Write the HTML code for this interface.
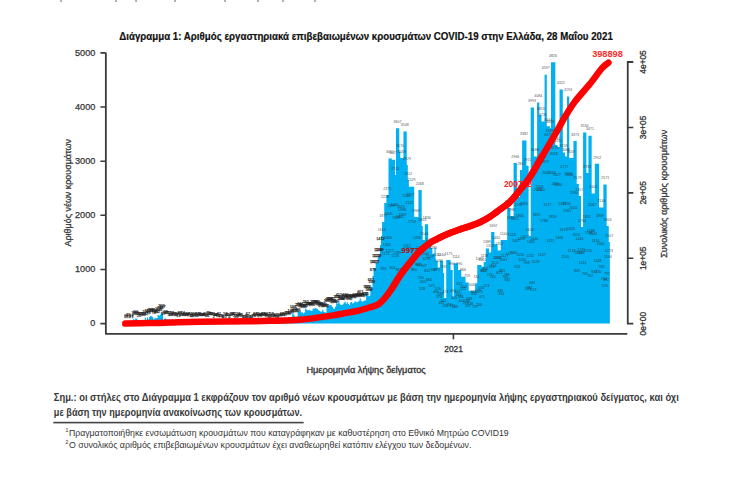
<!DOCTYPE html><html><head><meta charset="utf-8"><title>Διάγραμμα 1</title><style>
html,body{margin:0;padding:0;background:#fff;width:734px;height:479px;overflow:hidden}
svg{display:block}
text{font-family:"Liberation Sans","DejaVu Sans",sans-serif}
</style></head><body>
<svg width="734" height="479" viewBox="0 0 734 479">
<rect width="734" height="479" fill="#fff"/>
<text y="-0.4" font-size="9" fill="#444"><tspan x="60">ρ</tspan><tspan x="115">ρ</tspan><tspan x="135">ρ</tspan><tspan x="174">ρ</tspan><tspan x="224">ρ</tspan><tspan x="257">ρ</tspan><tspan x="282">ρ</tspan><tspan x="314">ρ</tspan></text>
<text x="119.3" y="39.6" font-size="10.4" font-weight="bold" fill="#111" stroke="#111" stroke-width="0.2" textLength="493.5" lengthAdjust="spacingAndGlyphs">Διάγραμμα 1: Αριθμός εργαστηριακά επιβεβαιωμένων κρουσμάτων COVID-19 στην Ελλάδα, 28 Μαΐου 2021</text>
<path fill="#00B0F0" d="M125.53 322.71h1.13V323.6h-1.13zM127.67 321.55h1.13V323.6h-1.13zM128.74 323.32h1.13V323.6h-1.13zM129.81 323.24h1.13V323.6h-1.13zM130.88 322.6h1.13V323.6h-1.13zM133.02 319.33h1.13V323.6h-1.13zM134.09 320.07h1.13V323.6h-1.13zM135.16 318.54h1.13V323.6h-1.13zM136.22 318.81h1.13V323.6h-1.13zM137.29 320.44h1.13V323.6h-1.13zM138.36 322.21h1.13V323.6h-1.13zM139.43 320.22h1.13V323.6h-1.13zM140.5 319.96h1.13V323.6h-1.13zM141.57 320.73h1.13V323.6h-1.13zM142.64 321.52h1.13V323.6h-1.13zM143.71 320.46h1.13V323.6h-1.13zM144.78 317.85h1.13V323.6h-1.13zM145.85 320.22h1.13V323.6h-1.13zM146.91 317.46h1.13V323.6h-1.13zM147.98 319.62h1.13V323.6h-1.13zM149.05 317.08h1.13V323.6h-1.13zM150.12 316.09h1.13V323.6h-1.13zM151.19 316.2h1.13V323.6h-1.13zM152.26 317.35h1.13V323.6h-1.13zM153.33 319.47h1.13V323.6h-1.13zM154.4 317.71h1.13V323.6h-1.13zM155.47 318.48h1.13V323.6h-1.13zM156.54 318.07h1.13V323.6h-1.13zM157.6 315.07h1.13V323.6h-1.13zM158.67 315.86h1.13V323.6h-1.13zM159.74 314.71h1.13V323.6h-1.13zM160.81 312.6h1.13V323.6h-1.13zM161.88 313.5h1.13V323.6h-1.13zM162.95 320.51h1.13V323.6h-1.13zM164.02 319.05h1.13V323.6h-1.13zM165.09 318.37h1.13V323.6h-1.13zM166.16 319.49h1.13V323.6h-1.13zM167.23 319.54h1.13V323.6h-1.13zM168.29 319.42h1.13V323.6h-1.13zM169.36 321.5h1.13V323.6h-1.13zM170.43 321.28h1.13V323.6h-1.13zM171.5 319.13h1.13V323.6h-1.13zM172.57 319.95h1.13V323.6h-1.13zM173.64 319.99h1.13V323.6h-1.13zM174.71 321.68h1.13V323.6h-1.13zM175.78 321.58h1.13V323.6h-1.13zM176.85 320.48h1.13V323.6h-1.13zM177.92 322.63h1.13V323.6h-1.13zM178.98 319.1h1.13V323.6h-1.13zM180.05 319.82h1.13V323.6h-1.13zM181.12 321.17h1.13V323.6h-1.13zM182.19 319.62h1.13V323.6h-1.13zM183.26 321.16h1.13V323.6h-1.13zM184.33 320.03h1.13V323.6h-1.13zM185.4 321.57h1.13V323.6h-1.13zM186.47 321.3h1.13V323.6h-1.13zM187.54 320.35h1.13V323.6h-1.13zM188.61 321.58h1.13V323.6h-1.13zM189.67 320.17h1.13V323.6h-1.13zM190.74 321.86h1.13V323.6h-1.13zM191.81 321.92h1.13V323.6h-1.13zM192.88 321.27h1.13V323.6h-1.13zM193.95 320.25h1.13V323.6h-1.13zM195.02 321.26h1.13V323.6h-1.13zM196.09 321.81h1.13V323.6h-1.13zM197.16 320.71h1.13V323.6h-1.13zM198.23 321.76h1.13V323.6h-1.13zM199.3 320.11h1.13V323.6h-1.13zM200.36 321.69h1.13V323.6h-1.13zM201.43 320.9h1.13V323.6h-1.13zM202.5 321.78h1.13V323.6h-1.13zM203.57 321.39h1.13V323.6h-1.13zM204.64 320.07h1.13V323.6h-1.13zM205.71 320.81h1.13V323.6h-1.13zM206.78 322.17h1.13V323.6h-1.13zM207.85 319.38h1.13V323.6h-1.13zM208.92 320.27h1.13V323.6h-1.13zM209.99 320.37h1.13V323.6h-1.13zM211.05 320.4h1.13V323.6h-1.13zM212.12 320.7h1.13V323.6h-1.13zM213.19 323.51h1.13V323.6h-1.13zM214.26 321.74h1.13V323.6h-1.13zM215.33 321.54h1.13V323.6h-1.13zM216.4 321.43h1.13V323.6h-1.13zM217.47 322.76h1.13V323.6h-1.13zM218.54 320.27h1.13V323.6h-1.13zM219.61 322.03h1.13V323.6h-1.13zM220.68 322.77h1.13V323.6h-1.13zM222.81 323.49h1.13V323.6h-1.13zM223.88 323.04h1.13V323.6h-1.13zM224.95 320.75h1.13V323.6h-1.13zM226.02 321.41h1.13V323.6h-1.13zM227.09 321.72h1.13V323.6h-1.13zM230.3 321.21h1.13V323.6h-1.13zM231.37 320.7h1.13V323.6h-1.13zM232.43 320.59h1.13V323.6h-1.13zM233.5 320.79h1.13V323.6h-1.13zM234.57 322.15h1.13V323.6h-1.13zM235.64 322.9h1.13V323.6h-1.13zM236.71 322.19h1.13V323.6h-1.13zM237.78 320.71h1.13V323.6h-1.13zM238.85 321.52h1.13V323.6h-1.13zM239.92 321.06h1.13V323.6h-1.13zM240.99 321.93h1.13V323.6h-1.13zM243.12 323.25h1.13V323.6h-1.13zM244.19 323.05h1.13V323.6h-1.13zM245.26 322.8h1.13V323.6h-1.13zM246.33 322.4h1.13V323.6h-1.13zM247.4 319.98h1.13V323.6h-1.13zM248.47 323.06h1.13V323.6h-1.13zM249.54 323.15h1.13V323.6h-1.13zM252.75 322.03h1.13V323.6h-1.13zM253.81 321.46h1.13V323.6h-1.13zM254.88 320.15h1.13V323.6h-1.13zM255.95 322.16h1.13V323.6h-1.13zM257.02 320.71h1.13V323.6h-1.13zM258.09 321.13h1.13V323.6h-1.13zM259.16 322.01h1.13V323.6h-1.13zM260.23 321.25h1.13V323.6h-1.13zM261.3 321.26h1.13V323.6h-1.13zM262.37 319.98h1.13V323.6h-1.13zM263.44 320h1.13V323.6h-1.13zM264.5 321.01h1.13V323.6h-1.13zM265.57 321.24h1.13V323.6h-1.13zM266.64 322.54h1.13V323.6h-1.13zM267.71 320.79h1.13V323.6h-1.13zM268.78 323.07h1.13V323.6h-1.13zM269.85 321.89h1.13V323.6h-1.13zM270.92 320.51h1.13V323.6h-1.13zM271.99 321.36h1.13V323.6h-1.13zM273.06 322.08h1.13V323.6h-1.13zM274.13 322.54h1.13V323.6h-1.13zM275.19 321.12h1.13V323.6h-1.13zM276.26 322.99h1.13V323.6h-1.13zM277.33 323.18h1.13V323.6h-1.13zM278.4 321.58h1.13V323.6h-1.13zM279.47 322.15h1.13V323.6h-1.13zM280.54 321.19h1.13V323.6h-1.13zM281.61 320.65h1.13V323.6h-1.13zM282.68 320.86h1.13V323.6h-1.13zM283.75 320h1.13V323.6h-1.13zM284.82 321.62h1.13V323.6h-1.13zM285.88 319.55h1.13V323.6h-1.13zM286.95 319.58h1.13V323.6h-1.13zM288.02 320.63h1.13V323.6h-1.13zM289.09 319.6h1.13V323.6h-1.13zM290.16 317.7h1.13V323.6h-1.13zM291.23 318.45h1.13V323.6h-1.13zM292.3 312.89h1.13V323.6h-1.13zM293.37 314.8h1.13V323.6h-1.13zM294.44 316.83h1.13V323.6h-1.13zM295.51 316.84h1.13V323.6h-1.13zM296.57 316.67h1.13V323.6h-1.13zM297.64 311.59h1.13V323.6h-1.13zM298.71 311.35h1.13V323.6h-1.13zM299.78 310.37h1.13V323.6h-1.13zM300.85 312.62h1.13V323.6h-1.13zM301.92 312.31h1.13V323.6h-1.13zM302.99 313.55h1.13V323.6h-1.13zM304.06 312.42h1.13V323.6h-1.13zM305.13 308.46h1.13V323.6h-1.13zM306.2 309.86h1.13V323.6h-1.13zM307.26 310.15h1.13V323.6h-1.13zM308.33 309.9h1.13V323.6h-1.13zM309.4 310.24h1.13V323.6h-1.13zM310.47 310.68h1.13V323.6h-1.13zM311.54 310.82h1.13V323.6h-1.13zM312.61 308.47h1.13V323.6h-1.13zM313.68 308.86h1.13V323.6h-1.13zM314.75 308.01h1.13V323.6h-1.13zM315.82 308.6h1.13V323.6h-1.13zM316.89 309.09h1.13V323.6h-1.13zM317.95 310.35h1.13V323.6h-1.13zM319.02 310.68h1.13V323.6h-1.13zM320.09 311.55h1.13V323.6h-1.13zM321.16 311.85h1.13V323.6h-1.13zM322.23 309.82h1.13V323.6h-1.13zM323.3 311.69h1.13V323.6h-1.13zM324.37 312.36h1.13V323.6h-1.13zM325.44 312.65h1.13V323.6h-1.13zM326.51 307.04h1.13V323.6h-1.13zM327.58 305.95h1.13V323.6h-1.13zM328.64 305.37h1.13V323.6h-1.13zM329.71 304.97h1.13V323.6h-1.13zM330.78 305.19h1.13V323.6h-1.13zM331.85 307.12h1.13V323.6h-1.13zM332.92 308.46h1.13V323.6h-1.13zM333.99 308.66h1.13V323.6h-1.13zM335.06 306.83h1.13V323.6h-1.13zM336.13 303.32h1.13V323.6h-1.13zM337.2 303.52h1.13V323.6h-1.13zM338.27 301.29h1.13V323.6h-1.13zM339.33 303.75h1.13V323.6h-1.13zM340.4 304.99h1.13V323.6h-1.13zM341.47 304.96h1.13V323.6h-1.13zM342.54 304.25h1.13V323.6h-1.13zM343.61 302.73h1.13V323.6h-1.13zM344.68 301.41h1.13V323.6h-1.13zM345.75 303.68h1.13V323.6h-1.13zM346.82 302.13h1.13V323.6h-1.13zM347.89 304.12h1.13V323.6h-1.13zM348.96 305.1h1.13V323.6h-1.13zM350.02 302.55h1.13V323.6h-1.13zM351.09 301.96h1.13V323.6h-1.13zM352.16 303.52h1.13V323.6h-1.13zM353.23 302.96h1.13V323.6h-1.13zM354.3 301.58h1.13V323.6h-1.13zM355.37 301.83h1.13V323.6h-1.13zM356.44 302.31h1.13V323.6h-1.13zM357.51 301.78h1.13V323.6h-1.13zM358.58 300.84h1.13V323.6h-1.13zM359.65 298.3h1.13V323.6h-1.13zM360.71 300.81h1.13V323.6h-1.13zM361.78 301.83h1.13V323.6h-1.13zM362.85 301.13h1.13V323.6h-1.13zM363.92 300.49h1.13V323.6h-1.13zM364.99 300.57h1.13V323.6h-1.13zM366.06 293.55h1.13V323.6h-1.13zM367.13 292.85h1.13V323.6h-1.13zM368.2 296.3h1.13V323.6h-1.13zM369.27 295.71h1.13V323.6h-1.13zM370.34 286.69h1.13V323.6h-1.13zM371.4 288.47h1.13V323.6h-1.13zM372.47 276h1.13V323.6h-1.13zM373.54 268h1.13V323.6h-1.13zM374.61 268h1.13V323.6h-1.13zM375.68 262.5h1.13V323.6h-1.13zM376.75 262.5h1.13V323.6h-1.13zM377.82 256h1.13V323.6h-1.13zM378.89 256h1.13V323.6h-1.13zM379.96 245h1.13V323.6h-1.13zM381.03 236h1.13V323.6h-1.13zM382.09 222h1.13V323.6h-1.13zM383.16 222h1.13V323.6h-1.13zM384.23 203h1.13V323.6h-1.13zM385.3 203h1.13V323.6h-1.13zM386.37 195h1.13V323.6h-1.13zM387.44 195h1.13V323.6h-1.13zM388.51 158.4h1.13V323.6h-1.13zM389.58 158.4h1.13V323.6h-1.13zM390.65 158.4h1.13V323.6h-1.13zM391.72 159.7h1.13V323.6h-1.13zM392.78 159.7h1.13V323.6h-1.13zM393.85 159.7h1.13V323.6h-1.13zM394.92 175h1.13V323.6h-1.13zM395.99 128.3h1.13V323.6h-1.13zM397.06 128.3h1.13V323.6h-1.13zM398.13 128.3h1.13V323.6h-1.13zM399.2 152h1.13V323.6h-1.13zM400.27 158h1.13V323.6h-1.13zM401.34 158h1.13V323.6h-1.13zM402.41 158h1.13V323.6h-1.13zM403.47 131.5h1.13V323.6h-1.13zM404.54 131.5h1.13V323.6h-1.13zM405.61 131.5h1.13V323.6h-1.13zM406.68 165h1.13V323.6h-1.13zM407.75 180h1.13V323.6h-1.13zM408.82 186.7h1.13V323.6h-1.13zM409.89 186.7h1.13V323.6h-1.13zM410.96 186.7h1.13V323.6h-1.13zM412.03 186.7h1.13V323.6h-1.13zM413.1 186.7h1.13V323.6h-1.13zM414.16 217h1.13V323.6h-1.13zM415.23 217h1.13V323.6h-1.13zM416.3 217h1.13V323.6h-1.13zM417.37 217h1.13V323.6h-1.13zM418.44 190h1.13V323.6h-1.13zM419.51 190h1.13V323.6h-1.13zM420.58 190h1.13V323.6h-1.13zM421.65 226h1.13V323.6h-1.13zM422.72 240h1.13V323.6h-1.13zM423.79 240h1.13V323.6h-1.13zM424.85 224.2h1.13V323.6h-1.13zM425.92 224.2h1.13V323.6h-1.13zM426.99 224.2h1.13V323.6h-1.13zM428.06 246h1.13V323.6h-1.13zM429.13 246h1.13V323.6h-1.13zM430.2 246h1.13V323.6h-1.13zM431.27 248h1.13V323.6h-1.13zM432.34 254h1.13V323.6h-1.13zM433.41 254h1.13V323.6h-1.13zM434.48 248h1.13V323.6h-1.13zM435.54 260.8h1.13V323.6h-1.13zM436.61 260.8h1.13V323.6h-1.13zM437.68 267.5h1.13V323.6h-1.13zM438.75 267.5h1.13V323.6h-1.13zM439.82 260.8h1.13V323.6h-1.13zM440.89 260.8h1.13V323.6h-1.13zM441.96 260.8h1.13V323.6h-1.13zM443.03 273h1.13V323.6h-1.13zM444.1 298h1.13V323.6h-1.13zM445.17 298h1.13V323.6h-1.13zM446.23 260h1.13V323.6h-1.13zM447.3 260h1.13V323.6h-1.13zM448.37 260h1.13V323.6h-1.13zM449.44 260h1.13V323.6h-1.13zM450.51 270h1.13V323.6h-1.13zM451.58 270h1.13V323.6h-1.13zM452.65 297h1.13V323.6h-1.13zM453.72 263.3h1.13V323.6h-1.13zM454.79 263.3h1.13V323.6h-1.13zM455.86 263.3h1.13V323.6h-1.13zM456.92 263.3h1.13V323.6h-1.13zM457.99 270h1.13V323.6h-1.13zM459.06 270h1.13V323.6h-1.13zM460.13 270h1.13V323.6h-1.13zM461.2 276.7h1.13V323.6h-1.13zM462.27 276.7h1.13V323.6h-1.13zM463.34 276.7h1.13V323.6h-1.13zM464.41 276.7h1.13V323.6h-1.13zM465.48 282.5h1.13V323.6h-1.13zM466.55 282.5h1.13V323.6h-1.13zM467.61 282.5h1.13V323.6h-1.13zM468.68 290.8h1.13V323.6h-1.13zM469.75 290.8h1.13V323.6h-1.13zM470.82 290.8h1.13V323.6h-1.13zM471.89 290.8h1.13V323.6h-1.13zM472.96 290.8h1.13V323.6h-1.13zM474.03 290.8h1.13V323.6h-1.13zM475.1 283.3h1.13V323.6h-1.13zM476.17 283.3h1.13V323.6h-1.13zM477.24 265h1.13V323.6h-1.13zM478.3 265h1.13V323.6h-1.13zM479.37 265h1.13V323.6h-1.13zM480.44 265h1.13V323.6h-1.13zM481.51 266.7h1.13V323.6h-1.13zM482.58 266.7h1.13V323.6h-1.13zM483.65 262h1.13V323.6h-1.13zM484.72 262h1.13V323.6h-1.13zM485.79 248.4h1.13V323.6h-1.13zM486.86 248.4h1.13V323.6h-1.13zM487.93 248.4h1.13V323.6h-1.13zM488.99 252.5h1.13V323.6h-1.13zM490.06 252.5h1.13V323.6h-1.13zM491.13 232h1.13V323.6h-1.13zM492.2 232h1.13V323.6h-1.13zM493.27 232h1.13V323.6h-1.13zM494.34 244.3h1.13V323.6h-1.13zM495.41 244.3h1.13V323.6h-1.13zM496.48 244.3h1.13V323.6h-1.13zM497.55 250.4h1.13V323.6h-1.13zM498.62 250.4h1.13V323.6h-1.13zM499.68 250.4h1.13V323.6h-1.13zM500.75 240h1.13V323.6h-1.13zM501.82 240h1.13V323.6h-1.13zM502.89 240h1.13V323.6h-1.13zM503.96 240h1.13V323.6h-1.13zM505.03 240h1.13V323.6h-1.13zM506.1 240h1.13V323.6h-1.13zM507.17 207.9h1.13V323.6h-1.13zM508.24 207.9h1.13V323.6h-1.13zM509.31 207.9h1.13V323.6h-1.13zM510.37 216h1.13V323.6h-1.13zM511.44 216h1.13V323.6h-1.13zM512.51 216h1.13V323.6h-1.13zM513.58 163h1.13V323.6h-1.13zM514.65 163h1.13V323.6h-1.13zM515.72 163h1.13V323.6h-1.13zM516.79 197h1.13V323.6h-1.13zM517.86 197h1.13V323.6h-1.13zM518.93 197h1.13V323.6h-1.13zM520 170h1.13V323.6h-1.13zM521.06 170h1.13V323.6h-1.13zM522.13 140.5h1.13V323.6h-1.13zM523.2 140.5h1.13V323.6h-1.13zM524.27 140.5h1.13V323.6h-1.13zM525.34 140.5h1.13V323.6h-1.13zM526.41 165.8h1.13V323.6h-1.13zM527.48 165.8h1.13V323.6h-1.13zM528.55 236h1.13V323.6h-1.13zM529.62 236h1.13V323.6h-1.13zM530.69 107.4h1.13V323.6h-1.13zM531.75 107.4h1.13V323.6h-1.13zM532.82 107.4h1.13V323.6h-1.13zM533.89 156.4h1.13V323.6h-1.13zM534.96 156.4h1.13V323.6h-1.13zM536.03 156.4h1.13V323.6h-1.13zM537.1 102.5h1.13V323.6h-1.13zM538.17 102.5h1.13V323.6h-1.13zM539.24 115h1.13V323.6h-1.13zM540.31 115h1.13V323.6h-1.13zM541.38 121.6h1.13V323.6h-1.13zM542.44 121.6h1.13V323.6h-1.13zM543.51 121.6h1.13V323.6h-1.13zM544.58 74.7h1.13V323.6h-1.13zM545.65 74.7h1.13V323.6h-1.13zM546.72 126.3h1.13V323.6h-1.13zM547.79 126.3h1.13V323.6h-1.13zM548.86 126.3h1.13V323.6h-1.13zM549.93 128.2h1.13V323.6h-1.13zM551 62.3h1.13V323.6h-1.13zM552.07 62.3h1.13V323.6h-1.13zM553.13 62.3h1.13V323.6h-1.13zM554.2 62.3h1.13V323.6h-1.13zM555.27 145.1h1.13V323.6h-1.13zM556.34 145.1h1.13V323.6h-1.13zM557.41 147h1.13V323.6h-1.13zM558.48 147h1.13V323.6h-1.13zM559.55 89.6h1.13V323.6h-1.13zM560.62 89.6h1.13V323.6h-1.13zM561.69 89.6h1.13V323.6h-1.13zM562.76 152.6h1.13V323.6h-1.13zM563.82 152.6h1.13V323.6h-1.13zM564.89 156.4h1.13V323.6h-1.13zM565.96 156.4h1.13V323.6h-1.13zM567.03 96.6h1.13V323.6h-1.13zM568.1 96.6h1.13V323.6h-1.13zM569.17 158h1.13V323.6h-1.13zM570.24 158h1.13V323.6h-1.13zM571.31 158h1.13V323.6h-1.13zM572.38 158h1.13V323.6h-1.13zM573.45 141h1.13V323.6h-1.13zM574.51 141h1.13V323.6h-1.13zM575.58 141h1.13V323.6h-1.13zM576.65 184h1.13V323.6h-1.13zM577.72 184h1.13V323.6h-1.13zM578.79 196h1.13V323.6h-1.13zM579.86 196h1.13V323.6h-1.13zM580.93 227h1.13V323.6h-1.13zM582 227h1.13V323.6h-1.13zM583.07 132.5h1.13V323.6h-1.13zM584.14 132.5h1.13V323.6h-1.13zM585.2 132.5h1.13V323.6h-1.13zM586.27 173h1.13V323.6h-1.13zM587.34 173h1.13V323.6h-1.13zM588.41 135.7h1.13V323.6h-1.13zM589.48 135.7h1.13V323.6h-1.13zM590.55 135.7h1.13V323.6h-1.13zM591.62 193.6h1.13V323.6h-1.13zM592.69 193.6h1.13V323.6h-1.13zM593.76 193.6h1.13V323.6h-1.13zM594.83 163.8h1.13V323.6h-1.13zM595.89 163.8h1.13V323.6h-1.13zM596.96 163.8h1.13V323.6h-1.13zM598.03 163.8h1.13V323.6h-1.13zM599.1 207.4h1.13V323.6h-1.13zM600.17 207.4h1.13V323.6h-1.13zM601.24 207.4h1.13V323.6h-1.13zM602.31 207.4h1.13V323.6h-1.13zM603.38 184.4h1.13V323.6h-1.13zM604.45 184.4h1.13V323.6h-1.13zM605.52 184.4h1.13V323.6h-1.13zM606.58 226h1.13V323.6h-1.13zM607.65 226h1.13V323.6h-1.13zM608.72 242h1.13V323.6h-1.13z"/>
<g font-size="3.6" fill="#2a2a2a" text-anchor="middle" fill-opacity="0.85"><text x="381.65" y="230.7">1618</text><text x="383.25" y="216.7">1877</text><text x="385.1" y="197.7">2228</text><text x="387.15" y="189.7">2375</text><text x="390.05" y="153.1">3051</text><text x="393.15" y="154.4">3027</text><text x="395.25" y="169.7">2745</text><text x="397.5" y="123">3607</text><text x="399.9" y="146.7">3170</text><text x="402" y="152.7">3059</text><text x="404.85" y="126.2">3548</text><text x="407" y="159.7">2929</text><text x="408.35" y="174.7">2652</text><text x="411.45" y="181.4">2529</text><text x="416" y="211.7">1969</text><text x="419.85" y="184.7">2468</text><text x="422.25" y="220.7">1803</text><text x="424.15" y="234.7">1544</text><text x="426.85" y="218.9">1836</text><text x="429.75" y="240.7">1433</text><text x="431.85" y="242.7">1396</text><text x="433.35" y="248.7">1286</text><text x="434.8" y="242.7">1396</text><text x="436.55" y="255.5">1160</text><text x="438.75" y="262.2">1036</text><text x="441.65" y="255.5">1160</text><text x="443.9" y="267.7">935</text><text x="445.5" y="292.7">473</text><text x="448.7" y="254.7">1175</text><text x="451.7" y="264.7">990</text><text x="453.35" y="291.7">491</text><text x="455.9" y="258">1114</text><text x="459.25" y="264.7">990</text><text x="462.95" y="271.4">866</text><text x="467.1" y="277.2">759</text><text x="472.1" y="285.5">606</text><text x="476.25" y="278">744</text><text x="479.6" y="259.7">1082</text><text x="482.6" y="261.4">1051</text><text x="484.5" y="256.7">1138</text><text x="487" y="243.1">1389</text><text x="490.05" y="247.2">1313</text><text x="493.15" y="226.7">1692</text><text x="496.25" y="239">1465</text><text x="499.3" y="245.1">1352</text><text x="503.75" y="234.7">1544</text><text x="508.45" y="202.6">2137</text><text x="511.9" y="210.7">1987</text><text x="515.35" y="157.7">2966</text><text x="518.8" y="191.7">2338</text><text x="521.25" y="164.7">2837</text><text x="524" y="135.2">3382</text><text x="527.4" y="160.5">2915</text><text x="529.65" y="230.7">1618</text><text x="532" y="102.1">3993</text><text x="535.1" y="151.1">3088</text><text x="538.2" y="97.2">4084</text><text x="540.8" y="109.7">3853</text><text x="543.05" y="116.3">3731</text><text x="545.7" y="69.4">4597</text><text x="548.3" y="121">3644</text><text x="550.3" y="122.9">3609</text><text x="553.1" y="57">4826</text><text x="556.45" y="139.8">3297</text><text x="558.6" y="141.7">3262</text><text x="560.8" y="84.3">4322</text><text x="563.85" y="147.3">3158</text><text x="565.95" y="151.1">3088</text><text x="568" y="91.3">4193</text><text x="571.15" y="152.7">3059</text><text x="575" y="135.7">3373</text><text x="577.6" y="178.7">2579</text><text x="579.55" y="190.7">2357</text><text x="581.9" y="221.7">1784</text><text x="584.4" y="127.2">3530</text><text x="587.3" y="167.7">2782</text><text x="590.05" y="130.4">3471</text><text x="593.35" y="188.3">2401</text><text x="597.2" y="158.5">2952</text><text x="601.4" y="202.1">2146</text><text x="605.15" y="179.1">2571</text><text x="607.45" y="220.7">1803</text><text x="609.35" y="236.7">1507</text><text x="383.73" y="269.83">895</text><text x="385.84" y="254.7">1175</text><text x="386.72" y="246.05">1335</text><text x="388.05" y="238.9">1466</text><text x="388.8" y="215.18">1905</text><text x="389.87" y="252.41">1217</text><text x="391.3" y="206.84">2059</text><text x="392.54" y="269.36">904</text><text x="394.46" y="205.7">2080</text><text x="395.17" y="257.34">1126</text><text x="396.26" y="218.76">1839</text><text x="397.44" y="253.93">1189</text><text x="398.64" y="270.59">881</text><text x="399.94" y="217.55">1861</text><text x="400.89" y="208.44">2029</text><text x="401.97" y="210.69">1988</text><text x="402.81" y="215.61">1897</text><text x="406.27" y="196.71">2246</text><text x="407.05" y="247.02">1317</text><text x="408.03" y="249.53">1270</text><text x="409.29" y="203.8">2115</text><text x="410.35" y="196.1">2257</text><text x="412.26" y="223.09">1759</text><text x="413.88" y="270.67">880</text><text x="414.99" y="251.25">1238</text><text x="415.51" y="256.66">1138</text><text x="417" y="239.35">1458</text><text x="417.66" y="266.19">963</text><text x="419.25" y="266.3">961</text><text x="419.81" y="248.86">1283</text><text x="420.87" y="278.8">730</text><text x="422.36" y="289.72">528</text><text x="423.29" y="282.82">655</text><text x="424.13" y="267.04">947</text><text x="425.17" y="255.26">1164</text><text x="426.23" y="260.05">1076</text><text x="427.35" y="272.16">852</text><text x="428.88" y="281.34">683</text><text x="429.55" y="258.28">1109</text><text x="431.74" y="287.15">575</text><text x="433.7" y="271.24">869</text><text x="435.93" y="293.1">466</text><text x="437.05" y="271.13">871</text><text x="437.96" y="289.83">526</text><text x="439.34" y="297.93">376</text><text x="440.42" y="294.51">439</text><text x="441.4" y="303.96">265</text><text x="443.61" y="301.95">302</text><text x="445.49" y="307.34">202</text><text x="448.72" y="306.15">224</text><text x="452.38" y="306.66">215</text><text x="454.2" y="299.08">355</text><text x="455.04" y="308.39">183</text><text x="457.58" y="293.27">462</text><text x="458.72" y="295.79">416</text><text x="459.47" y="284.65">622</text><text x="460.8" y="298.47">366</text><text x="461.57" y="301.97">302</text><text x="463.02" y="289.88">525</text><text x="463.74" y="288.3">554</text><text x="465.72" y="303.78">268</text><text x="467.05" y="302.28">296</text><text x="467.95" y="307.07">207</text><text x="469.26" y="299.99">338</text><text x="470.2" y="305.44">238</text><text x="473.61" y="293.38">460</text><text x="474.35" y="295.04">430</text><text x="475.34" y="307.65">197</text><text x="478.05" y="292.37">479</text><text x="478.92" y="305.61">234</text><text x="480.05" y="292.61">475</text><text x="481.28" y="288.53">550</text><text x="482.07" y="298.23">371</text><text x="483.36" y="271.88">857</text><text x="484.31" y="271.87">858</text><text x="485.5" y="269.63">899</text><text x="486.43" y="287.22">574</text><text x="489.7" y="276.21">777</text><text x="491.74" y="268.46">921</text><text x="492.79" y="277.94">745</text><text x="493.55" y="266.67">954</text><text x="495.17" y="263.58">1011</text><text x="496.95" y="259.03">1095</text><text x="498.13" y="258.68">1101</text><text x="499.35" y="273.77">823</text><text x="500.37" y="292.05">485</text><text x="501.35" y="294.81">434</text><text x="502.2" y="271.7">861</text><text x="503.42" y="260.56">1067</text><text x="504.75" y="257.26">1127</text><text x="505.27" y="278.25">740</text><text x="506.74" y="275.6">789</text><text x="507.5" y="281.37">682</text><text x="509.81" y="254.6">1177</text><text x="510.81" y="218.86">1837</text><text x="511.8" y="235.86">1523</text><text x="513.23" y="253.56">1196</text><text x="515.12" y="219.72">1821</text><text x="516.14" y="242.1">1407</text><text x="517.32" y="268.25">924</text><text x="518.6" y="206.14">2072</text><text x="519.73" y="217.29">1866</text><text x="520.33" y="255.79">1155</text><text x="521.46" y="240.38">1439</text><text x="522.62" y="261.35">1052</text><text x="523.73" y="204.94">2094</text><text x="525.01" y="238.31">1477</text><text x="526.69" y="264.27">998</text><text x="528.24" y="290.09">521</text><text x="529.21" y="289.48">532</text><text x="530.04" y="257.03">1132</text><text x="530.93" y="243.48">1382</text><text x="532.26" y="283.69">639</text><text x="533.56" y="290.5">513</text><text x="534.21" y="240.35">1440</text><text x="535.57" y="262.65">1028</text><text x="536.64" y="215.88">1892</text><text x="537.82" y="191.47">2343</text><text x="539.59" y="188.03">2406</text><text x="540.65" y="190.51">2360</text><text x="541.89" y="256.18">1147</text><text x="542.79" y="156.72">2985</text><text x="543.96" y="221.5">1788</text><text x="545.13" y="162.8">2872</text><text x="546.34" y="174.25">2661</text><text x="547.43" y="205.85">2077</text><text x="548.08" y="135.72">3372</text><text x="549.53" y="132.12">3439</text><text x="550.43" y="241.91">1411</text><text x="551.78" y="174.12">2663</text><text x="552.64" y="217.67">1859</text><text x="553.85" y="154.88">3018</text><text x="554.72" y="148.59">3135</text><text x="555.63" y="184.8">2466</text><text x="557.07" y="176.07">2627</text><text x="558.08" y="186">2444</text><text x="559.25" y="238.95">1466</text><text x="562.4" y="205.29">2087</text><text x="563.54" y="230.64">1619</text><text x="564.27" y="167.98">2777</text><text x="565.39" y="258.45">1105</text><text x="566.66" y="204.83">2096</text><text x="567.28" y="212.12">1961</text><text x="568.37" y="174.82">2650</text><text x="569.51" y="175.9">2630</text><text x="570.95" y="229.79">1635</text><text x="571.63" y="252.33">1218</text><text x="573.05" y="208.74">2024</text><text x="574.09" y="194.34">2290</text><text x="576.39" y="236.02">1520</text><text x="577.02" y="272.34">849</text><text x="578.13" y="253.71">1193</text><text x="579.41" y="240.04">1446</text><text x="580.6" y="253.97">1188</text><text x="581.35" y="251.45">1235</text><text x="582.74" y="263.54">1011</text><text x="584.88" y="275.24">795</text><text x="586.85" y="217.86">1855</text><text x="587.9" y="251.93">1226</text><text x="589.01" y="233.51">1566</text><text x="590.3" y="276.77">767</text><text x="591.02" y="232.34">1588</text><text x="592.19" y="206.4">2067</text><text x="593.34" y="234.62">1546</text><text x="594.31" y="273.3">831</text><text x="595.63" y="241.65">1416</text><text x="597.48" y="261.54">1048</text><text x="598.53" y="273.11">835</text><text x="599.88" y="217.09">1869</text><text x="600.6" y="244.68">1360</text><text x="601.84" y="267.87">932</text><text x="604.08" y="280.18">704</text><text x="604.8" y="287.46">570</text><text x="606.16" y="280.84">692</text><text x="607.03" y="275.42">792</text><text x="607.95" y="258.42">1106</text><text x="609.03" y="252.07">1223</text></g>
<g font-size="3.8" fill="#222" stroke="#222" stroke-width="0.25" stroke-opacity="0.6" text-anchor="middle"><text x="125" y="318.3">1</text><text x="126.07" y="317.41">16</text><text x="127.14" y="318.3">1</text><text x="128.21" y="316.25">38</text><text x="129.28" y="318.02">5</text><text x="130.34" y="317.94">7</text><text x="131.41" y="317.3">19</text><text x="132.48" y="318.3">1</text><text x="133.55" y="314.03">79</text><text x="134.62" y="314.77">65</text><text x="135.69" y="313.24">94</text><text x="136.76" y="313.51">89</text><text x="137.83" y="315.14">58</text><text x="138.9" y="316.91">26</text><text x="139.97" y="314.92">62</text><text x="141.03" y="314.66">67</text><text x="142.1" y="315.43">53</text><text x="143.17" y="316.22">38</text><text x="144.24" y="315.16">58</text><text x="145.31" y="312.55">106</text><text x="146.38" y="314.92">62</text><text x="147.45" y="312.16">113</text><text x="148.52" y="314.32">74</text><text x="149.59" y="311.78">120</text><text x="150.66" y="310.79">139</text><text x="151.72" y="310.9">137</text><text x="152.79" y="312.05">115</text><text x="153.86" y="314.17">76</text><text x="154.93" y="312.41">109</text><text x="156" y="313.18">95</text><text x="157.07" y="312.77">102</text><text x="158.14" y="309.77">158</text><text x="159.21" y="310.56">143</text><text x="160.28" y="309.41">164</text><text x="161.35" y="307.3">203</text><text x="162.41" y="308.2">187</text><text x="163.48" y="315.21">57</text><text x="164.55" y="313.75">84</text><text x="165.62" y="313.07">97</text><text x="166.69" y="314.19">76</text><text x="167.76" y="314.24">75</text><text x="168.83" y="314.12">77</text><text x="169.9" y="316.2">39</text><text x="170.97" y="315.98">43</text><text x="172.04" y="313.83">83</text><text x="173.1" y="314.65">67</text><text x="174.17" y="314.69">67</text><text x="175.24" y="316.38">36</text><text x="176.31" y="316.28">37</text><text x="177.38" y="315.18">58</text><text x="178.45" y="317.33">18</text><text x="179.52" y="313.8">83</text><text x="180.59" y="314.52">70</text><text x="181.66" y="315.87">45</text><text x="182.73" y="314.32">74</text><text x="183.79" y="315.86">45</text><text x="184.86" y="314.73">66</text><text x="185.93" y="316.27">37</text><text x="187" y="316">42</text><text x="188.07" y="315.05">60</text><text x="189.14" y="316.28">37</text><text x="190.21" y="314.87">63</text><text x="191.28" y="316.56">32</text><text x="192.35" y="316.62">31</text><text x="193.42" y="315.97">43</text><text x="194.49" y="314.95">62</text><text x="195.55" y="315.96">43</text><text x="196.62" y="316.51">33</text><text x="197.69" y="315.41">53</text><text x="198.76" y="316.46">34</text><text x="199.83" y="314.81">65</text><text x="200.9" y="316.39">35</text><text x="201.97" y="315.6">50</text><text x="203.04" y="316.48">34</text><text x="204.11" y="316.09">41</text><text x="205.18" y="314.77">65</text><text x="206.24" y="315.51">52</text><text x="207.31" y="316.87">26</text><text x="208.38" y="314.08">78</text><text x="209.45" y="314.97">62</text><text x="210.52" y="315.07">60</text><text x="211.59" y="315.1">59</text><text x="212.66" y="315.4">54</text><text x="213.73" y="318.21">2</text><text x="214.8" y="316.44">34</text><text x="215.87" y="316.24">38</text><text x="216.93" y="316.13">40</text><text x="218" y="317.46">15</text><text x="219.07" y="314.97">61</text><text x="220.14" y="316.73">29</text><text x="221.21" y="317.47">15</text><text x="222.28" y="318.3">1</text><text x="223.35" y="318.19">2</text><text x="224.42" y="317.74">10</text><text x="225.49" y="315.45">53</text><text x="226.56" y="316.11">40</text><text x="227.62" y="316.42">35</text><text x="228.69" y="318.3">1</text><text x="229.76" y="318.3">1</text><text x="230.83" y="315.91">44</text><text x="231.9" y="315.4">54</text><text x="232.97" y="315.29">56</text><text x="234.04" y="315.49">52</text><text x="235.11" y="316.85">27</text><text x="236.18" y="317.6">13</text><text x="237.25" y="316.89">26</text><text x="238.31" y="315.41">53</text><text x="239.38" y="316.22">38</text><text x="240.45" y="315.76">47</text><text x="241.52" y="316.63">31</text><text x="242.59" y="318.3">1</text><text x="243.66" y="317.95">7</text><text x="244.73" y="317.75">10</text><text x="245.8" y="317.5">15</text><text x="246.87" y="317.1">22</text><text x="247.94" y="314.68">67</text><text x="249" y="317.76">10</text><text x="250.07" y="317.85">8</text><text x="251.14" y="318.3">1</text><text x="252.21" y="318.3">1</text><text x="253.28" y="316.73">29</text><text x="254.35" y="316.16">40</text><text x="255.42" y="314.85">64</text><text x="256.49" y="316.86">27</text><text x="257.56" y="315.41">53</text><text x="258.62" y="315.83">46</text><text x="259.69" y="316.71">29</text><text x="260.76" y="315.95">43</text><text x="261.83" y="315.96">43</text><text x="262.9" y="314.68">67</text><text x="263.97" y="314.7">66</text><text x="265.04" y="315.71">48</text><text x="266.11" y="315.94">43</text><text x="267.18" y="317.24">20</text><text x="268.25" y="315.49">52</text><text x="269.31" y="317.77">10</text><text x="270.38" y="316.59">32</text><text x="271.45" y="315.21">57</text><text x="272.52" y="316.06">41</text><text x="273.59" y="316.78">28</text><text x="274.66" y="317.24">20</text><text x="275.73" y="315.82">46</text><text x="276.8" y="317.69">11</text><text x="277.87" y="317.88">8</text><text x="278.94" y="316.28">37</text><text x="280" y="316.85">27</text><text x="281.07" y="315.89">44</text><text x="282.14" y="315.35">55</text><text x="283.21" y="315.56">51</text><text x="284.28" y="314.7">66</text><text x="285.35" y="316.32">37</text><text x="286.42" y="314.25">75</text><text x="287.49" y="314.28">74</text><text x="288.56" y="315.33">55</text><text x="289.63" y="314.3">74</text><text x="290.69" y="312.4">109</text><text x="291.76" y="313.15">95</text><text x="292.83" y="307.59">198</text><text x="293.9" y="309.5">163</text><text x="294.97" y="311.53">125</text><text x="296.04" y="311.54">125</text><text x="297.11" y="311.37">128</text><text x="298.18" y="306.29">222</text><text x="299.25" y="306.05">226</text><text x="300.32" y="305.07">244</text><text x="301.38" y="307.32">203</text><text x="302.45" y="307.01">209</text><text x="303.52" y="308.25">186</text><text x="304.59" y="307.12">206</text><text x="305.66" y="303.16">280</text><text x="306.73" y="304.56">254</text><text x="307.8" y="304.85">248</text><text x="308.87" y="304.6">253</text><text x="309.94" y="304.94">247</text><text x="311.01" y="305.38">239</text><text x="312.07" y="305.52">236</text><text x="313.14" y="303.17">279</text><text x="314.21" y="303.56">272</text><text x="315.28" y="302.71">288</text><text x="316.35" y="303.3">277</text><text x="317.42" y="303.79">268</text><text x="318.49" y="305.05">245</text><text x="319.56" y="305.38">239</text><text x="320.63" y="306.25">222</text><text x="321.7" y="306.55">217</text><text x="322.76" y="304.52">255</text><text x="323.83" y="306.39">220</text><text x="324.9" y="307.06">208</text><text x="325.97" y="307.35">202</text><text x="327.04" y="301.74">306</text><text x="328.11" y="300.65">326</text><text x="329.18" y="300.07">337</text><text x="330.25" y="299.67">344</text><text x="331.32" y="299.89">340</text><text x="332.39" y="301.82">304</text><text x="333.45" y="303.16">280</text><text x="334.52" y="303.36">276</text><text x="335.59" y="301.53">310</text><text x="336.66" y="298.02">375</text><text x="337.73" y="298.22">371</text><text x="338.8" y="295.99">412</text><text x="339.87" y="298.45">367</text><text x="340.94" y="299.69">344</text><text x="342.01" y="299.66">344</text><text x="343.08" y="298.95">357</text><text x="344.14" y="297.43">386</text><text x="345.21" y="296.11">410</text><text x="346.28" y="298.38">368</text><text x="347.35" y="296.83">397</text><text x="348.42" y="298.82">360</text><text x="349.49" y="299.8">342</text><text x="350.56" y="297.25">389</text><text x="351.63" y="296.66">400</text><text x="352.7" y="298.22">371</text><text x="353.77" y="297.66">381</text><text x="354.83" y="296.28">407</text><text x="355.9" y="296.53">402</text><text x="356.97" y="297.01">393</text><text x="358.04" y="296.48">403</text><text x="359.11" y="295.54">420</text><text x="360.18" y="293">467</text><text x="361.25" y="295.51">421</text><text x="362.32" y="296.53">402</text><text x="363.39" y="295.83">415</text><text x="364.46" y="295.19">427</text><text x="365.52" y="295.27">425</text><text x="366.59" y="288.25">555</text><text x="367.66" y="287.55">568</text><text x="368.73" y="291">504</text><text x="369.8" y="290.41">515</text><text x="370.87" y="281.39">682</text><text x="371.94" y="283.17">649</text><text x="373.01" y="270.7">879</text><text x="374.08" y="262.7">1027</text><text x="375.15" y="262.7">1027</text><text x="376.21" y="257.2">1129</text><text x="377.28" y="257.2">1129</text><text x="378.35" y="250.7">1249</text><text x="379.42" y="250.7">1249</text><text x="380.49" y="239.7">1452</text></g>
<path fill="none" stroke="#FF0000" stroke-width="6.5" stroke-linecap="round" stroke-linejoin="round" d="M125.3 323.6C129.42 323.52 142.55 323.27 150 323.1C157.45 322.93 161.67 322.82 170 322.6C178.33 322.38 186.67 322.03 200 321.8C213.33 321.57 238.33 321.37 250 321.2C261.67 321.03 261.67 321.05 270 320.8C278.33 320.55 290 320.52 300 319.7C310 318.88 321.67 317.15 330 315.9C338.33 314.65 345 313.13 350 312.2C355 311.27 356.67 311.12 360 310.3C363.33 309.48 367 308.27 370 307.3C373 306.33 375.5 306.08 378 304.5C380.5 302.92 382.67 300.48 385 297.8C387.33 295.12 389.5 292.1 392 288.4C394.5 284.7 397 279.9 400 275.6C403 271.3 406.67 266.68 410 262.6C413.33 258.52 416.67 254.38 420 251.1C423.33 247.82 426.67 245.17 430 242.9C433.33 240.63 436.67 239.15 440 237.5C443.33 235.85 446.67 234.35 450 233C453.33 231.65 456.67 230.55 460 229.4C463.33 228.25 466.67 227.3 470 226.1C473.33 224.9 476.67 223.77 480 222.2C483.33 220.63 486.67 218.82 490 216.7C493.33 214.58 496.67 211.98 500 209.5C503.33 207.02 506.67 205.05 510 201.8C513.33 198.55 516.67 194.13 520 190C523.33 185.87 526.33 182.58 530 177C533.67 171.42 537.83 163.57 542 156.5C546.17 149.43 551.17 141.22 555 134.6C558.83 127.98 561.67 122.32 565 116.8C568.33 111.28 570.83 107 575 101.5C579.17 96 585.5 89.37 590 83.8C594.5 78.23 598.93 71.62 602 68.1C605.07 64.58 607.33 63.6 608.4 62.7"/>
<text x="401.3" y="252.8" font-size="8" font-weight="bold" fill="#C00000">99779</text>
<text x="503.9" y="186.9" font-size="8.4" font-weight="bold" fill="#FF2020">200712</text>
<text x="622.8" y="57.2" font-size="9.2" font-weight="bold" fill="#FF2A2A" text-anchor="end">398898</text>
<path fill="none" stroke="#FF0000" stroke-width="6.5" stroke-linecap="round" stroke-linejoin="round" d="M392 288.4C393.33 286.27 397 279.9 400 275.6C403 271.3 406.67 266.68 410 262.6C413.33 258.52 416.67 254.38 420 251.1C423.33 247.82 426.67 245.17 430 242.9C433.33 240.63 436.67 239.15 440 237.5C443.33 235.85 446.67 234.35 450 233C453.33 231.65 456.67 230.55 460 229.4C463.33 228.25 466.67 227.3 470 226.1C473.33 224.9 476.67 223.77 480 222.2C483.33 220.63 486.67 218.82 490 216.7C493.33 214.58 496.67 211.98 500 209.5C503.33 207.02 506.67 205.05 510 201.8C513.33 198.55 516.67 194.13 520 190C523.33 185.87 526.33 182.58 530 177C533.67 171.42 540 159.92 542 156.5"/>
<path d="M105.85 52.6V333.85H627.3" fill="none" stroke="#3a3a3a" stroke-width="1.8" stroke-linejoin="round"/>
<path d="M100.4 323.6H105.4M100.4 269.46H105.4M100.4 215.32H105.4M100.4 161.18H105.4M100.4 107.04H105.4M100.4 52.9H105.4" stroke="#3a3a3a" stroke-width="1.6"/>
<g font-size="9.1" fill="#333" stroke="#333" stroke-width="0.25" text-anchor="end">
<text x="95.3" y="326.2">0</text>
<text x="95.3" y="272.06">1000</text>
<text x="95.3" y="217.92">2000</text>
<text x="95.3" y="163.78">3000</text>
<text x="95.3" y="109.64">4000</text>
<text x="95.3" y="55.5">5000</text>
</g>
<path d="M453.4 333.8V339.3" stroke="#3a3a3a" stroke-width="1.6"/>
<text x="453.6" y="352.4" font-size="8.4" fill="#333" stroke="#333" stroke-width="0.3" text-anchor="middle">2021</text>
<text x="366.1" y="372.6" font-size="8.7" fill="#3a3a3a" stroke="#3a3a3a" stroke-width="0.35" text-anchor="middle" textLength="119.4" lengthAdjust="spacingAndGlyphs">Ημερομηνία λήψης δείγματος</text>
<text transform="translate(71.4 192.8) rotate(-90)" font-size="8.6" fill="#3a3a3a" stroke="#3a3a3a" stroke-width="0.3" text-anchor="middle" textLength="107.3" lengthAdjust="spacingAndGlyphs">Αριθμός νέων κρουσμάτων</text>
<path d="M633.3 62H627.75V323.7H633.3" fill="none" stroke="#3a3a3a" stroke-width="1.8"/>
<path d="M627.75 258.27H633.3M627.75 192.85H633.3M627.75 127.43H633.3" stroke="#3a3a3a" stroke-width="1.6"/>
<text transform="translate(645.6 323.7) rotate(-90)" font-size="8.4" fill="#333" stroke="#333" stroke-width="0.3" text-anchor="middle">0e+00</text>
<text transform="translate(645.6 258.27) rotate(-90)" font-size="8.4" fill="#333" stroke="#333" stroke-width="0.3" text-anchor="middle">1e+05</text>
<text transform="translate(645.6 192.85) rotate(-90)" font-size="8.4" fill="#333" stroke="#333" stroke-width="0.3" text-anchor="middle">2e+05</text>
<text transform="translate(645.6 127.43) rotate(-90)" font-size="8.4" fill="#333" stroke="#333" stroke-width="0.3" text-anchor="middle">3e+05</text>
<text transform="translate(645.6 62) rotate(-90)" font-size="8.4" fill="#333" stroke="#333" stroke-width="0.3" text-anchor="middle">4e+05</text>
<text transform="translate(667.2 193.8) rotate(-90)" font-size="8.6" fill="#3a3a3a" stroke="#3a3a3a" stroke-width="0.3" text-anchor="middle" textLength="128" lengthAdjust="spacingAndGlyphs">Συνολικός αριθμός κρουσμάτων</text>
<text x="53.8" y="401" font-size="10.4" font-weight="bold" fill="#3a3a3a" textLength="625" lengthAdjust="spacingAndGlyphs">Σημ.: οι στήλες στο Διάγραμμα 1 εκφράζουν τον αριθμό νέων κρουσμάτων με βάση την ημερομηνία λήψης εργαστηριακού δείγματος, και όχι</text>
<text x="53.8" y="415.5" font-size="10.4" font-weight="bold" fill="#3a3a3a" textLength="248.3" lengthAdjust="spacingAndGlyphs">με βάση την ημερομηνία ανακοίνωσης των κρουσμάτων.</text>
<rect x="53.3" y="421.8" width="250.3" height="1.6" fill="#444"/>
<text x="65.6" y="432.3" font-size="5.2" fill="#333">1</text>
<text x="68.9" y="435.5" font-size="8.4" fill="#333" textLength="439.8" lengthAdjust="spacingAndGlyphs">Πραγματοποιήθηκε ενσωμάτωση κρουσμάτων που καταγράφηκαν με καθυστέρηση στο Εθνικό Μητρώο COVID19</text>
<text x="65.6" y="444.3" font-size="5.2" fill="#333">2</text>
<text x="68.9" y="447.8" font-size="8.4" fill="#333" textLength="402.5" lengthAdjust="spacingAndGlyphs">Ο συνολικός αριθμός επιβεβαιωμένων κρουσμάτων έχει αναθεωρηθεί κατόπιν ελέγχου των δεδομένων.</text>
</svg></body></html>
